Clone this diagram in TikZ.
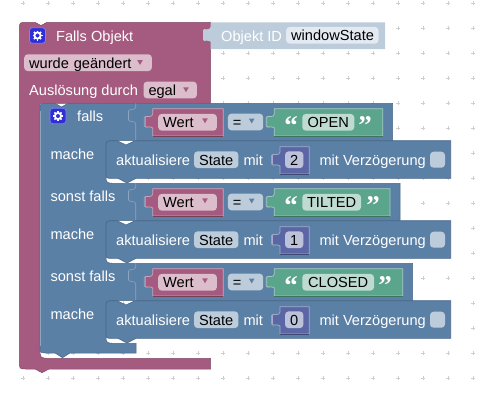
\documentclass[tikz,border=0pt]{standalone}
\usepackage{fontspec}
\setmainfont{Liberation Sans}
\newfontfamily\quotefont{Liberation Serif}
\usepackage{xcolor}
\usetikzlibrary{positioning}

\definecolor{objblock}{HTML}{A55B80}
\definecolor{objfield}{HTML}{DBBDCC}
\definecolor{ctrlblock}{HTML}{5B80A5}
\definecolor{ctrlfield}{HTML}{BDCCDB}
\definecolor{ctrledge}{HTML}{48678A}
\definecolor{ctrllight}{HTML}{8CA6C0}
\definecolor{idfield}{HTML}{E3EAF1}
\definecolor{strblock}{HTML}{5BA58C}
\definecolor{strfield}{HTML}{BDDBD1}
\definecolor{numblock}{HTML}{5B67A5}
\definecolor{numfield}{HTML}{BDC2DB}
\definecolor{iconblue}{HTML}{2F2FD8}
\definecolor{griddot}{HTML}{CFCFCF}

% value block with its left tab: x1, y1, x2, y2, colour
\newcommand{\tabpoints}[2]{({#1-2.5},{#2+18}) -- ({#1-7.5},{#2+18.5}) -- ({#1-7.5},{#2+7.5}) -- ({#1-2.5},{#2+8})}
\newcommand{\valblock}[5]{%
    \draw[ctrllight, line width=.6pt, rounded corners=1.2pt, xshift=-1pt] \tabpoints{#1}{#2};
    \draw[fill=#5, draw=#5!55!white, line width=.7pt, rounded corners=1.2pt]
        (#1,{#2+19.3}) -- \tabpoints{#1}{#2} -- (#1,{#2+6.5}) [sharp corners] -- (#1,#2) -- (#3,#2) -- (#3,#4) -- (#1,#4) -- cycle;
    \draw[#5!70!black, line width=.7pt] (#1,#4) -- (#3,#4);
}

\begin{document}
\begin{tikzpicture}[
    x=1pt, y=-1pt,
    every node/.style={inner sep=0pt, font=\fontsize{14.6}{16}\selectfont},
    lbl/.style={anchor=base west, text=white},
    field/.style={rectangle, rounded corners=3.5pt, anchor=west, text=black, align=left,
        text height=13pt, text depth=2pt, inner ysep=.85pt, inner xsep=5pt},
    valfield/.style={rectangle, rounded corners=3.5pt, anchor=center, text=black,
        text height=13pt, text depth=2pt, inner ysep=.85pt},
    quotemark/.style={anchor=base, text=white, font=\quotefont\bfseries\fontsize{27}{27}\selectfont},
    gearicon/.pic={
        \draw[fill=iconblue, draw=iconblue!60!white, line width=.7pt, rounded corners=3pt] (-8,-7.8) rectangle (8,7.8);
        \foreach \ang in {0,45,...,315} {
            \draw[white, line width=1.7pt] (\ang:2.5pt) -- (\ang:5pt);
        }
        \draw[white, line width=1.8pt] (0,0) circle (3.1pt);
    },
    droptri/.pic={
        \fill[pic actions] (-2.8,-2.2) -- (2.8,-2.2) -- (0,2.6) -- cycle;
    },
]

\useasboundingbox (0,0) rectangle (495,400);

% background dots
\foreach \i in {0,...,18} {
    \foreach \j in {0,...,15} {
        \draw[griddot, line width=.7pt] ({23.3+25*\i-2},{3.3+25*\j}) -- ++(4,0) ++(-2,-2) -- ++(0,4);
    }
}

% object block
\draw[fill=objblock, draw=objblock!80!black, line width=.5pt]
    (19.3,30) .. controls (19.3,22.3) .. (27,22.3) -- (35,22.3) -- (41,25.5) -- (47,22.3)
    -- (210.7,22.3) -- (210.7,103.3) -- (40,103.3) -- (40,348) .. controls (40,358.3) .. (50,358.3)
    -- (210.7,358.3) -- (210.7,369) -- (49,369) -- (42,372.7) -- (35,369) -- (27,369)
    .. controls (19.3,369) .. (19.3,361) -- cycle;

% id block
\fill[ctrlfield, rounded corners=1.2pt]
    (210.7,41.8) -- (208,40.5) -- (203,41) -- (203,29) -- (208,29.5) -- (210.7,28) [sharp corners]
    -- (210.7,22.3) -- (385,22.3) -- (385,49) -- (210.7,49) -- cycle;

% control block
\draw[fill=ctrlblock, draw=ctrledge, line width=.5pt]
    (40,111) .. controls (40,103.3) .. (48,103.3) -- (55,103.3) -- (61.5,107) -- (68,103.3)
    -- (392.7,103.3) -- (392.7,140.7) -- (114,140.7) .. controls (106,140.7) .. (106,148)
    -- (106,175) .. controls (106,183.3) .. (116,183.3)
    -- (400,183.3) -- (400,220.7) -- (114,220.7) .. controls (106,220.7) .. (106,228)
    -- (106,255) .. controls (106,263.3) .. (116,263.3)
    -- (412.7,263.3) -- (412.7,300.7) -- (114,300.7) .. controls (106,300.7) .. (106,308)
    -- (106,335) .. controls (106,343.3) .. (116,343.3)
    -- (136,343.3) -- (136,353) -- (70,353) -- (62.5,357.7) -- (55,353) -- (47,353)
    .. controls (40,353) .. (40,346) -- cycle;
\draw[ctrllight, line width=.6pt] (40.5,111) -- (40.5,346);

\pic at (37.5,35.5) {gearicon};
\pic at (58,116) {gearicon};

\node[lbl] (objtitle) at (56,41) {Falls Objekt};
\node[field, fill=objfield, text width=117.7pt] (changed) at (24,62.7) {wurde geändert};
\pic[objblock] at (140,62.3) {droptri};
\node[lbl] (trigger) at (29,95.7) {Auslösung durch};
\node[field, fill=objfield, text width=43.4pt] (egal) at (143.3,90) {egal};
\pic[objblock] at (186,89.6) {droptri};
\node[lbl] (idlabel) at (221,41) {Objekt ID};
\node[field, fill=idfield, text width=82.3pt] (idvalue) at (286,35.3) {windowState};
\node[lbl] (iflabel) at (77,121.7) {falls};
\node[lbl] (elseif1) at (50.3,201.7) {sonst falls};
\node[lbl] (elseif2) at (50.3,281.7) {sonst falls};

% one row each: condition and statement
\foreach \dy/\rowend/\strend/\fieldend/\word/\val/\quoteat in {
    0/392.7/382.7/354.3/OPEN/2/365,
    80/400/390/361/TILTED/1/373,
    160/412.7/402.7/374/CLOSED/0/385} {
\begin{scope}[yshift=-\dy pt]
    % socket of the condition
    \draw[ctrllight, line width=.6pt, rounded corners=1.2pt]
        (135.7,103.3) -- (135.7,108.5) -- (132,109.5) -- (128.5,110) -- (128.5,121) -- (132,121.5) -- (135.7,122.5) -- (135.7,140.7);

    % statement block
    \draw[fill=ctrlblock, draw=ctrledge, line width=.6pt]
        (106,148) .. controls (106,140.7) .. (114,140.7) -- (117,140.7) -- (126,145) -- (135,140.7)
        -- (450.7,140.7) -- (450.7,178.3) -- (136,178.3) -- (127,183) -- (118,178.3) -- (112,178.3)
        .. controls (106,178.3) .. (106,173) -- cycle;

    \valblock{152.7}{108.7}{223.3}{136}{objblock}
    \valblock{274.3}{108.7}{\strend}{136}{strblock}
    \valblock{280}{146.7}{309.3}{174}{numblock}

    \node[field, fill=objfield, text width=48.7pt] (wert\val) at (158,122.3) {Wert};
    \pic[objblock] at (205,120.6) {droptri};
    \node[field, fill=ctrlfield, text width=25.3pt] (equals\val) at (227.7,122) {=};
    \pic[ctrlblock] at (251.7,120.8) {droptri};

    \node[quotemark] (open\val) at (291,134.4) {“};
    \node[valfield, fill=strfield, minimum width={\fieldend pt-302.3pt}] (word\val) at ({(302.3+\fieldend)/2},122.3) {\word};
    \node[quotemark] (close\val) at (\quoteat,134.4) {”};

    \node[lbl] (update\val) at (116,165) {aktualisiere};
    \node[valfield, fill=ctrlfield, minimum width=44.3pt] (state\val) at (216.2,159.7) {State};
    \node[lbl] (mit\val) at (243.3,165) {mit};
    \node[valfield, fill=numfield, minimum width=18.3pt] (num\val) at (294.2,159.8) {\val};
    \node[lbl] (delay\val) at (319.3,165) {mit Verzögerung};
    \node[rectangle, rounded corners=3.5pt, fill=ctrlfield, minimum width=15pt, minimum height=16pt] (check\val) at (437.5,159.7) {};

    \node[lbl] (mache\val) at (50.3,159) {mache};
\end{scope}
}

\end{tikzpicture}
\end{document}
